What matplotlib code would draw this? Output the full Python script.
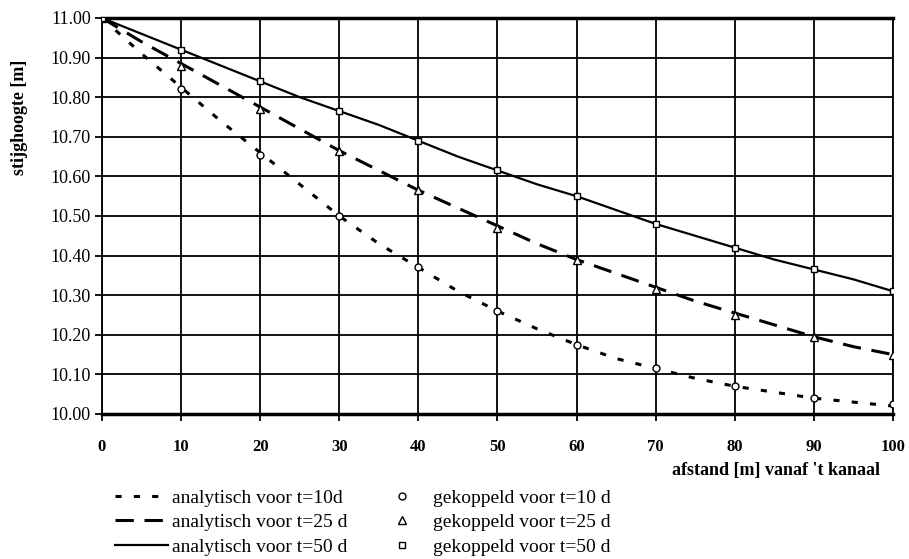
import matplotlib
matplotlib.use("Agg")
import matplotlib.pyplot as plt

# data
x_line = [0, 5, 10, 15, 20, 25, 30, 35, 40, 45, 50, 55, 60, 65, 70, 75, 80, 85, 90, 95, 100]
an_t10 = [11.00, 10.91, 10.825, 10.74, 10.66, 10.58, 10.50, 10.43, 10.37, 10.31, 10.26, 10.215,
          10.175, 10.14, 10.115, 10.09, 10.07, 10.055, 10.04, 10.03, 10.02]
an_t25 = [11.00, 10.94, 10.885, 10.83, 10.775, 10.72, 10.665, 10.615, 10.565, 10.52, 10.475, 10.43,
          10.39, 10.355, 10.32, 10.285, 10.255, 10.225, 10.195, 10.17, 10.15]
an_t50 = [11.00, 10.96, 10.92, 10.88, 10.84, 10.80, 10.765, 10.73, 10.69, 10.65, 10.615, 10.58,
          10.55, 10.515, 10.48, 10.45, 10.42, 10.39, 10.365, 10.34, 10.31]

x_pts = [0, 10, 20, 30, 40, 50, 60, 70, 80, 90, 100]
gk_t10 = [11.00, 10.82, 10.655, 10.50, 10.37, 10.26, 10.175, 10.115, 10.07, 10.04, 10.025]
gk_t25 = [11.00, 10.88, 10.77, 10.665, 10.565, 10.47, 10.39, 10.315, 10.25, 10.195, 10.15]
gk_t50 = [11.00, 10.92, 10.84, 10.765, 10.69, 10.615, 10.55, 10.48, 10.42, 10.365, 10.31]

yticks = [10.0, 10.1, 10.2, 10.3, 10.4, 10.5, 10.6, 10.7, 10.8, 10.9, 11.0]
xticks = [0, 10, 20, 30, 40, 50, 60, 70, 80, 90, 100]

labels = ['analytisch voor t=10d', 'analytisch voor t=25 d', 'analytisch voor t=50 d',
          'gekoppeld voor t=10 d', 'gekoppeld voor t=25 d', 'gekoppeld voor t=50 d']

plt.rcParams['font.family'] = ['Liberation Serif', 'DejaVu Serif']

fig = plt.figure(figsize=(9.09, 5.59), dpi=100)
ax = fig.add_axes([0.1122, 0.2594, 0.8702, 0.7084])

for y in yticks:
    ax.axhline(y, color='black', lw=1.3, zorder=1)
for x in xticks:
    ax.axvline(x, color='black', lw=1.3, zorder=1)

l10, = ax.plot(x_line, an_t10, color='black', lw=2.2, dashes=(2, 4), zorder=2)
l25, = ax.plot(x_line, an_t25, color='black', lw=2.2, dashes=(6, 3.5), zorder=2)
l50, = ax.plot(x_line, an_t50, color='black', lw=1.6, zorder=2)

m10, = ax.plot(x_pts, gk_t10, ls='none', marker='o', ms=5, mfc='white', mec='black', mew=1.0, zorder=3)
m25, = ax.plot(x_pts, gk_t25, ls='none', marker='^', ms=5.5, mfc='white', mec='black', mew=1.0, zorder=3)
m50, = ax.plot(x_pts, gk_t50, ls='none', marker='s', ms=5, mfc='white', mec='black', mew=1.0, zorder=3)

ax.set_xlim(0, 100)
ax.set_ylim(10.0, 11.0)
ax.set_xticks(xticks)
ax.set_yticks(yticks)
ax.set_yticklabels([f"{v:.2f}" for v in yticks], fontsize=13)
ax.set_xticklabels([str(v) for v in xticks], fontsize=12, fontweight='bold')
ax.tick_params(axis='x', direction='out', length=5, width=1.3, pad=13)
ax.tick_params(axis='y', direction='out', length=5, width=1.3, pad=3)
for s in ['top', 'bottom']:
    ax.spines[s].set_linewidth(2.5)
for s in ['left', 'right']:
    ax.spines[s].set_linewidth(1.3)

ax.set_ylabel('stijghoogte [m]', fontsize=13, fontweight='bold')
ax.yaxis.set_label_coords(-0.093, 0.75)

fig.text(880 / 909, 1 - 470 / 559, "afstand [m] vanaf 't kanaal", ha='right', va='center',
         fontsize=13, fontweight='bold')

leg = fig.legend([l10, l25, l50, m10, m25, m50], labels,
                 ncol=2, frameon=False, loc='upper left', bbox_to_anchor=(115 / 909, 1 - 489 / 559),
                 fontsize=14, handlelength=2.7, handletextpad=0.25, columnspacing=1.45,
                 labelspacing=0.36, borderaxespad=0, borderpad=0)

fig.savefig('out.png', dpi=100)
